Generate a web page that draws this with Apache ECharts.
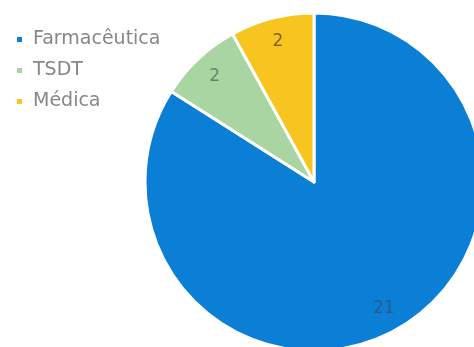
<!DOCTYPE html>
<html>
<head>
<meta charset="utf-8">
<script src="https://cdn.jsdelivr.net/npm/echarts@6/dist/echarts.min.js"></script>
<style>
  html, body { margin: 0; padding: 0; background: #ffffff; }
  #chart { width: 474px; height: 347px; }
</style>
</head>
<body>
<div id="chart"></div>
<script>
// Distribution by area
var categories = ['Farmacêutica', 'TSDT', 'Médica'];
var values = [21, 2, 2];
var sliceColors = ['#0b7fd6', '#a8d5a2', '#f8c41f'];
var labelColors = ['#2b5c86', '#5c8a6c', '#7d6620'];

var pieCenter = [314, 182];
var pieRadius = 169;

var pieData = categories.map(function (name, i) {
  return { name: name, value: values[i], itemStyle: { color: sliceColors[i] } };
});

// Transparent ring carrying the value labels near the rim
var labelData = categories.map(function (name, i) {
  return {
    name: name,
    value: values[i],
    itemStyle: { color: 'rgba(0,0,0,0)', borderWidth: 0 },
    label: { color: labelColors[i] }
  };
});

var chart = echarts.init(document.getElementById('chart'), null, { renderer: 'canvas' });
chart.setOption({
  animation: false,
  backgroundColor: '#ffffff',
  legend: {
    orient: 'vertical',
    left: 10,
    top: 25,
    itemWidth: 7,
    itemHeight: 7,
    itemGap: 12,
    icon: 'rect',
    data: categories,
    textStyle: {
      fontFamily: 'DejaVu Sans',
      fontSize: 19,
      color: '#878787',
      padding: [0, 0, 0, 5]
    }
  },
  series: [
    {
      type: 'pie',
      center: pieCenter,
      radius: [0, pieRadius],
      startAngle: 90,
      clockwise: true,
      silent: true,
      label: { show: false },
      labelLine: { show: false },
      itemStyle: { borderColor: '#ffffff', borderWidth: 3 },
      data: pieData
    },
    {
      type: 'pie',
      center: pieCenter,
      radius: [pieRadius * 0.68, pieRadius],
      startAngle: 90,
      clockwise: true,
      silent: true,
      legendHoverLink: false,
      label: {
        show: true,
        position: 'inside',
        formatter: '{c}',
        fontFamily: 'DejaVu Sans',
        fontSize: 17
      },
      labelLine: { show: false },
      data: labelData
    }
  ]
});
</script>
</body>
</html>
